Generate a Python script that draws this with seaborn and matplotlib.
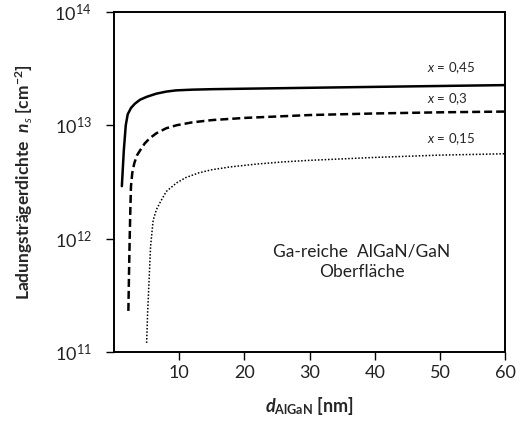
import matplotlib
matplotlib.use("Agg")
import matplotlib.pyplot as plt
import seaborn as sns
import numpy as np
import pandas as pd

# d_AlGaN [nm] and n_s [cm^-2]
d_045 = [1.2, 1.5, 1.8, 2.1, 2.6, 3.2, 4.0, 5.0, 6.5, 8.0, 9.5, 12, 15, 20, 30, 40, 50, 60]
ns_045 = [2.9e12, 6.0e12, 1.0e13, 1.25e13, 1.42e13, 1.55e13, 1.68e13, 1.78e13, 1.9e13,
          1.98e13, 2.03e13, 2.06e13, 2.08e13, 2.1e13, 2.14e13, 2.18e13, 2.22e13, 2.26e13]

d_030 = [2.2, 2.3, 2.4, 2.5, 2.6, 2.8, 3.1, 3.5, 4.0, 4.7, 5.5, 6.5, 8.0, 9.6, 12, 15, 20, 30, 40, 50, 60]
ns_030 = [2.3e11, 5.0e11, 1.0e12, 1.8e12, 2.9e12, 3.8e12, 4.6e12, 5.4e12, 6.0e12, 6.9e12,
          7.7e12, 8.5e12, 9.4e12, 1.0e13, 1.06e13, 1.11e13, 1.16e13, 1.23e13, 1.27e13, 1.3e13, 1.32e13]

d_015 = [5.0, 5.15, 5.3, 5.6, 6.0, 6.5, 7.1, 8.0, 9.6, 11, 13, 15, 18, 22, 26, 30, 40, 50, 60]
ns_015 = [1.2e11, 2.2e11, 3.4e11, 8.5e11, 1.45e12, 1.8e12, 2.1e12, 2.6e12, 3.1e12, 3.45e12,
          3.8e12, 4.05e12, 4.3e12, 4.55e12, 4.75e12, 4.9e12, 5.2e12, 5.45e12, 5.6e12]

labels = ["0,45", "0,3", "0,15"]

df = pd.concat([
    pd.DataFrame({"d": d_045, "ns": ns_045, "x": labels[0]}),
    pd.DataFrame({"d": d_030, "ns": ns_030, "x": labels[1]}),
    pd.DataFrame({"d": d_015, "ns": ns_015, "x": labels[2]}),
])

sns.set_style("ticks")
plt.rcParams["font.family"] = ["Lato", "DejaVu Sans"]
plt.rcParams["mathtext.fontset"] = "custom"
plt.rcParams["mathtext.rm"] = "Lato"
plt.rcParams["mathtext.it"] = "Lato:italic"
plt.rcParams["mathtext.bf"] = "Lato:bold"
plt.rcParams["mathtext.bfit"] = "Lato:italic:bold"

fig = plt.figure(figsize=(5.16, 4.25), dpi=100)
ax = fig.add_axes([0.221, 0.172, 0.758, 0.8])

styles = {"0,45": dict(ls="-", lw=1.8), "0,3": dict(ls=(0, (3.2, 1.6)), lw=1.8),
          "0,15": dict(ls=(0, (1, 1.2)), lw=1.1)}
for lab in labels:
    sub = df[df["x"] == lab]
    sns.lineplot(data=sub, x="d", y="ns", ax=ax, color="black", sort=False,
                 linestyle=styles[lab]["ls"], linewidth=styles[lab]["lw"], legend=False)

ax.set_yscale("log")
ax.set_xlim(0, 60)
ax.set_ylim(1e11, 1e14)
ax.set_xticks([10, 20, 30, 40, 50, 60])
ax.set_yticks([1e11, 1e12, 1e13, 1e14])
ax.yaxis.set_minor_locator(matplotlib.ticker.NullLocator())
ax.tick_params(axis="both", labelsize=13, length=6, width=1, color="black",
               direction="out", labelcolor="#222222")
ax.tick_params(axis="y", pad=10)
for s in ax.spines.values():
    s.set_linewidth(1.4)
    s.set_color("black")

ax.set_xlabel(r"$\mathbfit{d}_{\mathbf{AlGaN}}$ [nm]", fontsize=13, fontweight="bold", labelpad=10)
ax.set_ylabel(r"Ladungsträgerdichte  $\mathbfit{n}_{\mathit{s}}$ [cm$^{\mathbf{-2}}$]", fontsize=12.5,
              fontweight="bold", labelpad=14)

ax.text(51.7, 3.2e13, r"$\mathit{x}$ = 0,45", fontsize=9.5, ha="center", va="center")
ax.text(51.1, 1.7e13, r"$\mathit{x}$ = 0,3", fontsize=9.5, ha="center", va="center")
ax.text(51.7, 7.5e12, r"$\mathit{x}$ = 0,15", fontsize=9.5, ha="center", va="center")

ax.text(38, 6.3e11, "Ga-reiche  AlGaN/GaN\nOberfläche", fontsize=12.5, ha="center",
        va="center", linespacing=1.35, color="#222222")

fig.savefig("out.png", dpi=100)
